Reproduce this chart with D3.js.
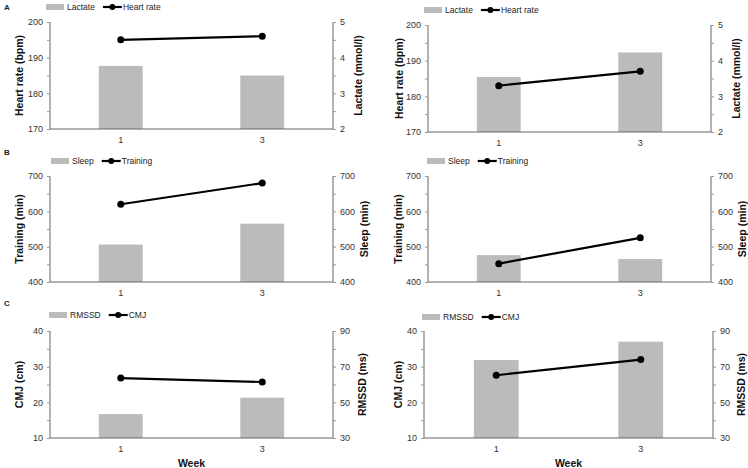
<!DOCTYPE html>
<html><head><meta charset="utf-8">
<script src="https://cdn.jsdelivr.net/npm/d3@7"></script>
<style>body{margin:0;background:#fff}svg{display:block}text{font-family:"Liberation Sans",Arial,sans-serif}</style>
</head><body><svg id="c" width="748" height="468"></svg>
<script>
const weeks = ["1", "3"];
const lactateA1 = [3.77, 3.5];
const heartRateA1 = [195, 196];
const lactateA2 = [3.54, 4.23];
const heartRateA2 = [183, 187];
const sleepB1 = [506, 565];
const trainingB1 = [620, 680];
const sleepB2 = [476, 465];
const trainingB2 = [452, 525];
const rmssdC1 = [43.4, 52.6];
const cmjC1 = [26.8, 25.7];
const rmssdC2 = [73.7, 84];
const cmjC2 = [27.6, 32];
const hrTicks = [170, 180, 190, 200], lacTicks = [2, 3, 4, 5];
const trTicks = [400, 500, 600, 700], slTicks = [400, 500, 600, 700];
const cmjTicks = [10, 20, 30, 40], rmTicks = [30, 50, 70, 90];

const panels = [
 {x0:50,x1:333,y0:22,y1:129,bar:lactateA1,line:heartRateA1,barName:"Lactate",lineName:"Heart rate",lT:hrTicks,rT:lacTicks,lTitle:"Heart rate (bpm)",rTitle:"Lactate (mmol/l)",legX:46,legY:7,letter:"A",letterY:10,lx:19,rx:358},
 {x0:428,x1:711,y0:25,y1:132,bar:lactateA2,line:heartRateA2,barName:"Lactate",lineName:"Heart rate",lT:hrTicks,rT:lacTicks,lTitle:"Heart rate (bpm)",rTitle:"Lactate (mmol/l)",legX:424,legY:10,lx:399,rx:736},
 {x0:50,x1:333,y0:176,y1:282,bar:sleepB1,line:trainingB1,barName:"Sleep",lineName:"Training",lT:trTicks,rT:slTicks,lTitle:"Training (min)",rTitle:"Sleep (min)",legX:51,legY:161,letter:"B",letterY:155,lx:19,rx:364},
 {x0:428,x1:711,y0:176,y1:282,bar:sleepB2,line:trainingB2,barName:"Sleep",lineName:"Training",lT:trTicks,rT:slTicks,lTitle:"Training (min)",rTitle:"Sleep (min)",legX:427,legY:161,lx:398,rx:742},
 {x0:50,x1:333,y0:331,y1:438,bar:rmssdC1,line:cmjC1,barName:"RMSSD",lineName:"CMJ",lT:cmjTicks,rT:rmTicks,lTitle:"CMJ (cm)",rTitle:"RMSSD (ms)",legX:49,legY:315,letter:"C",letterY:306,lx:19,rx:362,week:true},
 {x0:424,x1:713,y0:331,y1:438,bar:rmssdC2,line:cmjC2,barName:"RMSSD",lineName:"CMJ",lT:cmjTicks,rT:rmTicks,lTitle:"CMJ (cm)",rTitle:"RMSSD (ms)",legX:422,legY:317,lx:398,rx:741,week:true}
];
const svg = d3.select("#c");
const barColor = "#bbbbbb";
const minors = t => { const a = []; for (let i = 0; i < t.length - 1; i++) a.push((t[i] + t[i+1]) / 2); return a; };
panels.forEach(p => {
  const g = svg.append("g");
  const x = d3.scaleBand().domain(weeks).range([p.x0, p.x1]);
  const yl = d3.scaleLinear().domain([p.lT[0], p.lT[p.lT.length-1]]).range([p.y1, p.y0]);
  const yr = d3.scaleLinear().domain([p.rT[0], p.rT[p.rT.length-1]]).range([p.y1, p.y0]);
  const bw = x.bandwidth() * 0.31;
  g.selectAll("rect.b").data(p.bar).join("rect")
    .attr("x", (d, i) => x(weeks[i]) + x.bandwidth()/2 - bw/2).attr("width", bw)
    .attr("y", d => yr(d)).attr("height", d => p.y1 - yr(d)).attr("fill", barColor);
  const fmt = d3.format("d");
  g.append("g").attr("transform", `translate(${p.x0},0)`).call(d3.axisLeft(yl).tickValues(p.lT).tickSize(3).tickPadding(4).tickFormat(fmt));
  g.append("g").attr("transform", `translate(${p.x0},0)`).call(d3.axisLeft(yl).tickValues(minors(p.lT)).tickSize(3).tickFormat(""));
  g.append("g").attr("transform", `translate(${p.x1},0)`).call(d3.axisRight(yr).tickValues(p.rT).tickSize(3).tickPadding(4).tickFormat(fmt));
  g.append("g").attr("transform", `translate(${p.x1},0)`).call(d3.axisRight(yr).tickValues(minors(p.rT)).tickSize(3).tickFormat(""));
  g.selectAll(".domain").attr("stroke", "#999").attr("stroke-width", 1).attr("d", `M0,${p.y0}V${p.y1}`);
  g.selectAll(".tick line").attr("stroke", "#999");
  g.selectAll(".tick text").attr("font-size", "9px").attr("fill", "#333").attr("font-family", "Liberation Sans, Arial, sans-serif");
  const xa = g.append("g").attr("transform", `translate(0,${p.y1})`).call(d3.axisBottom(x).tickSize(0).tickPadding(8));
  xa.select(".domain").attr("stroke", "#666").attr("stroke-width", 1).attr("d", `M${p.x0},0H${p.x1}`);
  xa.selectAll("text").attr("font-size", "9px").attr("fill", "#333").attr("font-family", "Liberation Sans, Arial, sans-serif");
  const pts = p.line.map((d, i) => [x(weeks[i]) + x.bandwidth()/2, yl(d)]);
  g.append("path").attr("d", d3.line()(pts)).attr("fill", "none").attr("stroke", "#000").attr("stroke-width", 2.2);
  g.selectAll("circle.p").data(pts).join("circle").attr("cx", d => d[0]).attr("cy", d => d[1]).attr("r", 3.5).attr("fill", "#000");
  [[p.lx, p.lTitle], [p.rx, p.rTitle]].forEach(([tx, t]) => {
    g.append("text").attr("transform", `translate(${tx},${(p.y0+p.y1)/2}) rotate(-90)`).attr("text-anchor", "middle").attr("dy", "0.35em")
      .attr("font-size", "10.5px").attr("font-weight", "bold").attr("fill", "#111").text(t);
  });
  const lg = g.append("g").attr("transform", `translate(${p.legX},${p.legY})`);
  lg.append("rect").attr("x", 0).attr("y", -3).attr("width", 18).attr("height", 6).attr("fill", barColor);
  const t1 = lg.append("text").attr("x", 21).attr("y", 0).attr("dy", "0.35em").attr("font-size", "8.5px").attr("fill", "#222").text(p.barName);
  const lx0 = 21 + t1.node().getComputedTextLength() + 8;
  lg.append("line").attr("x1", lx0).attr("x2", lx0 + 19).attr("y1", 0).attr("y2", 0).attr("stroke", "#000").attr("stroke-width", 2.2);
  lg.append("circle").attr("cx", lx0 + 9.5).attr("cy", 0).attr("r", 3).attr("fill", "#000");
  lg.append("text").attr("x", lx0 + 20).attr("y", 0).attr("dy", "0.35em").attr("font-size", "8.5px").attr("fill", "#222").text(p.lineName);
  if (p.letter) svg.append("text").attr("x", 4).attr("y", p.letterY).attr("font-size", "8px").attr("font-weight", "bold").attr("fill", "#222").text(p.letter);
  if (p.week) g.append("text").attr("x", (p.x0+p.x1)/2).attr("y", 467).attr("text-anchor", "middle").attr("font-size", "10.5px").attr("font-weight", "bold").attr("fill", "#111").text("Week");
});
</script></body></html>
